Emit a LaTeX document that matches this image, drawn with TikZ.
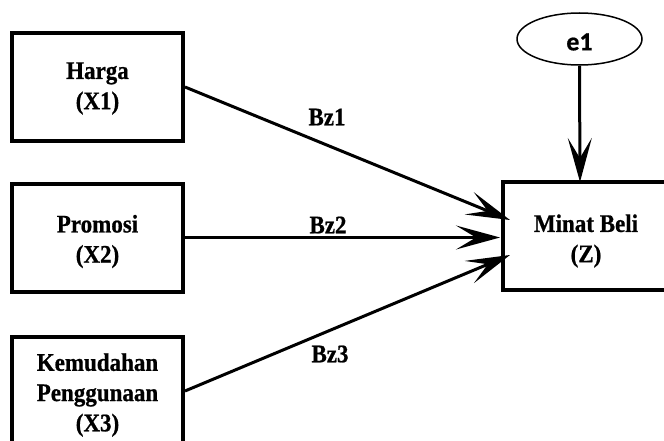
\documentclass[tikz,border=0pt]{standalone}
\usepackage{fontspec}
\setmainfont{Liberation Serif}
\newfontfamily\heavy{Liberation Serif Bold}[FakeBold=0.8]
\newfontfamily\esans{Carlito Bold}[FakeBold=0.6]
\usetikzlibrary{shapes.geometric,arrows.meta}
\newcommand\boxtext[2]{\raisebox{-#1pt}[\height][\depth]{\scalebox{1}[1.1]{\begin{tabular}{@{}c@{}}#2\end{tabular}}}}
\newcommand\tallword[1]{\scalebox{1}[1.1]{#1}}
\begin{document}
\begin{tikzpicture}[x=1pt,y=-1pt,
  var/.style={draw,line width=4pt,minimum width=171pt,minimum height=108pt,inner sep=0pt,
    font=\heavy\fontsize{23}{27.5}\selectfont},
  lbl/.style={font=\heavy\fontsize{23}{26}\selectfont,inner sep=0pt},
  arr/.style={line width=3pt,-{Stealth[length=44pt,width=24pt,inset=20pt]}}]
\useasboundingbox (0,0) rectangle (664,441);
\node[var] (harga) at (97.5,87) {\boxtext{1}{Harga\\(X1)}};
\node[var] (promosi) at (97.5,237.5) {\boxtext{4}{Promosi\\(X2)}};
\node[var] (kemudahan) at (97.5,391) {\boxtext{4}{Kemudahan\\Penggunaan\\(X3)}};
\node[var,minimum width=166pt] (minat) at (586,236) {\boxtext{5}{Minat Beli\\(Z)}};
\node[draw,ellipse,line width=1.5pt,minimum width=125pt,minimum height=52pt,inner sep=0pt,
  font=\esans\fontsize{26}{28}\selectfont] (e1) at (579.5,39) {\raisebox{-3pt}[\height][\depth]{e1}};
\coordinate (t1) at (510,220);
\coordinate (t2) at (500,237.5);
\coordinate (t3) at (510,255);
\coordinate (t4) at (580,182);
\draw[arr] (harga.east) -- (t1);
\draw[arr] (promosi.east) -- (t2);
\draw[arr] (kemudahan.east) -- (t3);
\draw[arr] (e1.south) -- (t4);
\node[lbl] (bz1) at (327,117) {\tallword{Bz1}};
\node[lbl] (bz2) at (328,225) {\tallword{Bz2}};
\node[lbl] (bz3) at (330,354) {\tallword{Bz3}};
\end{tikzpicture}
\end{document}
